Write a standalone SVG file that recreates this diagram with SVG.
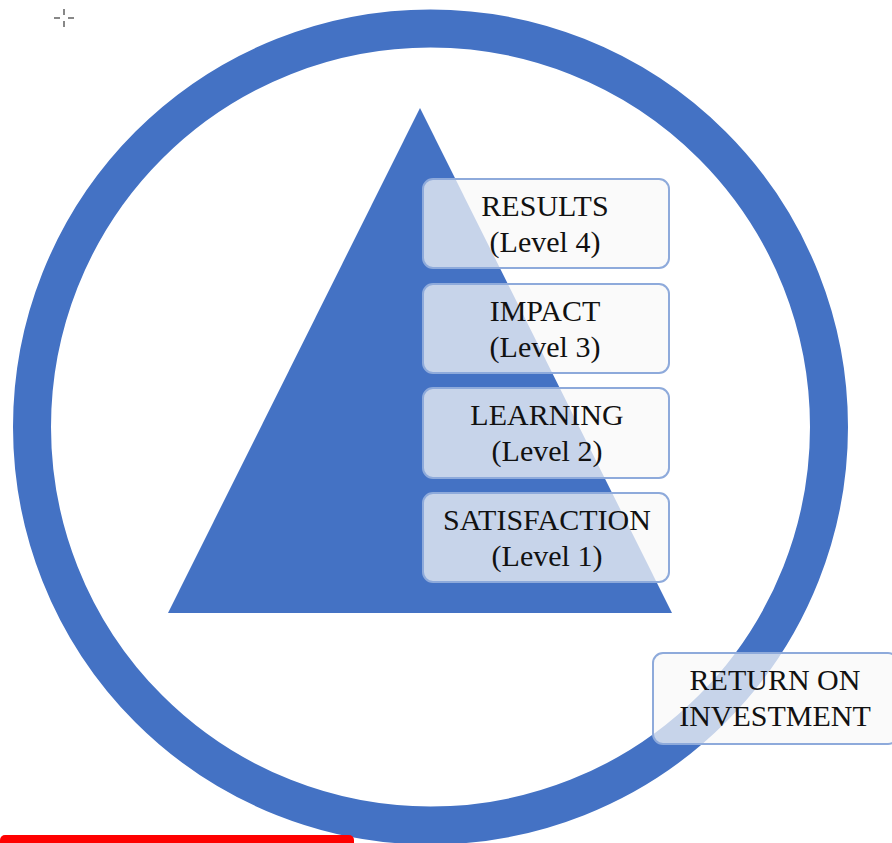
<svg xmlns="http://www.w3.org/2000/svg" width="892" height="843" viewBox="0 0 892 843">
<style>
.box{fill:#f8f8f8;fill-opacity:0.73;stroke:#8eaadb;stroke-width:2}
.t{font-family:"Liberation Serif",serif;font-size:30px;fill:#111;text-anchor:middle}
</style>
<rect width="892" height="843" fill="#ffffff"/>
<g id="cursor" stroke="#888" stroke-width="2">
<line x1="64" y1="9" x2="64" y2="15"/><line x1="64" y1="21" x2="64" y2="27"/>
<line x1="54" y1="18" x2="60" y2="18"/><line x1="68" y1="18" x2="74" y2="18"/>
</g>
<g id="ring"><circle cx="430.5" cy="427" r="398.5" fill="none" stroke="#4472c4" stroke-width="38"/></g>
<g id="pyramid"><polygon points="420,108 168,613 672,613" fill="#4472c4"/></g>
<g id="results"><rect class="box" x="423" y="179" width="246" height="89" rx="10"/><text class="t" x="545" y="216">RESULTS</text><text class="t" x="545" y="252">(Level 4)</text></g>
<g id="impact"><rect class="box" x="423" y="284" width="246" height="89" rx="10"/><text class="t" x="545" y="321">IMPACT</text><text class="t" x="545" y="357">(Level 3)</text></g>
<g id="learning"><rect class="box" x="423" y="388" width="246" height="90" rx="10"/><text class="t" x="547" y="425">LEARNING</text><text class="t" x="547" y="461">(Level 2)</text></g>
<g id="satisfaction"><rect class="box" x="423" y="493" width="246" height="89" rx="10"/><text class="t" x="547" y="530">SATISFACTION</text><text class="t" x="547" y="566">(Level 1)</text></g>
<g id="roi"><rect class="box" x="653" y="653" width="245" height="91" rx="10"/><text class="t" x="775" y="690">RETURN ON</text><text class="t" x="775" y="726">INVESTMENT</text></g>
<g id="connectors"></g>
<rect x="0" y="835" width="354" height="16" rx="5" fill="#ff0000"/>
</svg>
